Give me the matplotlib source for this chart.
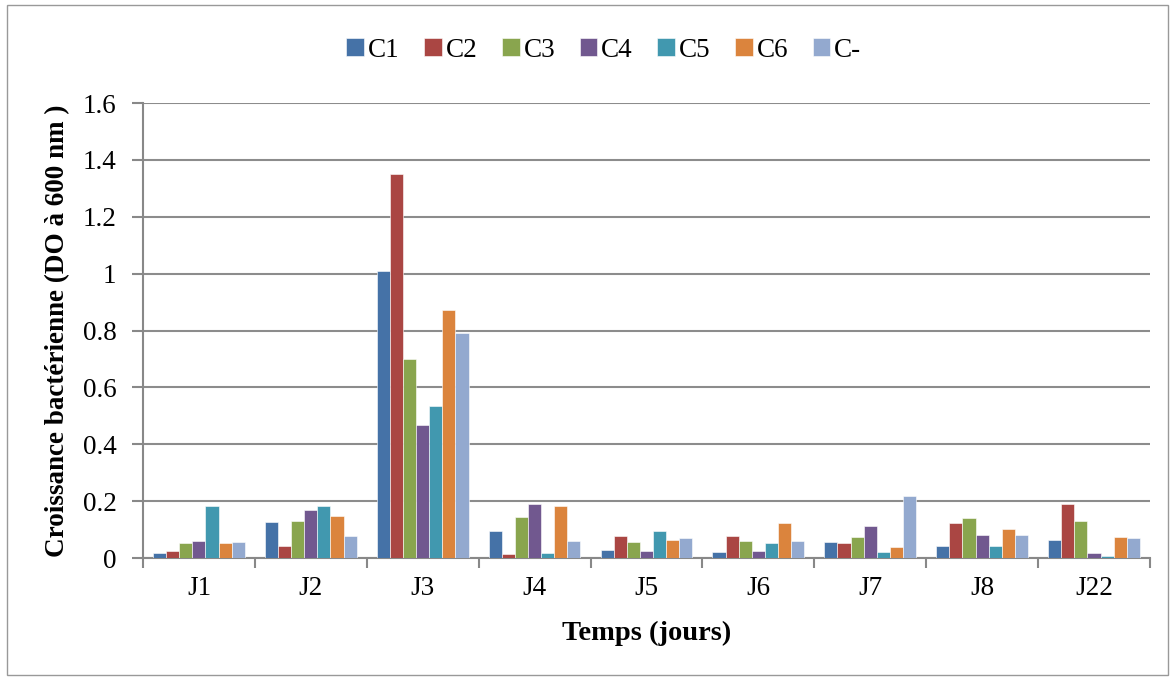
import matplotlib
matplotlib.use("Agg")
import matplotlib.pyplot as plt
import numpy as np
from matplotlib.patches import Rectangle

# valeurs (DO a 600 nm)
jours = ["J1", "J2", "J3", "J4", "J5", "J6", "J7", "J8", "J22"]
series = ["C1", "C2", "C3", "C4", "C5", "C6", "C-"]
C1 = [0.017, 0.127, 1.011, 0.094, 0.027, 0.022, 0.057, 0.041, 0.065]
C2 = [0.024, 0.041, 1.349, 0.013, 0.076, 0.076, 0.052, 0.122, 0.191]
C3 = [0.054, 0.130, 0.700, 0.143, 0.058, 0.059, 0.073, 0.139, 0.130]
C4 = [0.059, 0.169, 0.466, 0.191, 0.026, 0.024, 0.112, 0.080, 0.017]
C5 = [0.183, 0.183, 0.533, 0.019, 0.096, 0.053, 0.020, 0.043, 0.006]
C6 = [0.052, 0.147, 0.873, 0.184, 0.063, 0.123, 0.039, 0.102, 0.073]
Cm = [0.057, 0.077, 0.790, 0.059, 0.071, 0.059, 0.219, 0.080, 0.071]
valeurs = [C1, C2, C3, C4, C5, C6, Cm]
couleurs = ["#4572A7", "#AA4643", "#89A54E", "#71588F", "#4198AF", "#DB843D", "#93A9CF"]

plt.rcParams['font.family'] = ['Liberation Serif', 'DejaVu Serif']

fig = plt.figure(figsize=(11.75, 6.8), dpi=100)
ax = fig.add_axes([0.1217, 0.1794, 0.857, 0.6691])

# cadre autour de la figure
fig.patches.append(Rectangle((0.006, 0.008), 0.988, 0.984, transform=fig.transFigure,
                             fill=False, edgecolor="#999999", linewidth=1.0))

x = np.arange(len(jours))
w = 0.82 / len(series)
for i, (nom, vals) in enumerate(zip(series, valeurs)):
    ax.bar(x - 0.41 + w * (i + 0.5), vals, width=w, color=couleurs[i],
           edgecolor="white", linewidth=0.4, label=nom, zorder=3)

ax.set_xlim(-0.5, len(jours) - 0.5)
ax.set_ylim(0, 1.6)
ax.set_yticks(np.arange(0, 1.61, 0.2))
ax.set_yticklabels(["0", "0.2", "0.4", "0.6", "0.8", "1", "1.2", "1.4", "1.6"])
ax.set_xticks(x)
ax.set_xticklabels(jours)
ax.set_xticks(np.arange(-0.5, len(jours), 1), minor=True)
ax.tick_params(axis="x", which="major", length=0, labelsize=19.5, pad=13)
ax.tick_params(axis="x", which="minor", length=7, width=1.5, color="#888888")
ax.tick_params(axis="y", length=8, width=1.5, color="#888888", labelsize=19.5, pad=11)
ax.grid(axis="y", color="#8c8c8c", linewidth=1.5, zorder=0)
for s in ["top", "right"]:
    ax.spines[s].set_visible(False)
for s in ["left", "bottom"]:
    ax.spines[s].set_color("#888888")
    ax.spines[s].set_linewidth(1.5)

ax.set_xlabel("Temps (jours)", fontsize=20.5, fontweight="bold", labelpad=14)
ax.set_ylabel("Croissance bactérienne (DO à 600 nm )", fontsize=19.5, fontweight="bold", labelpad=9)

ax.legend(loc="center", bbox_to_anchor=(0.514, 0.926), bbox_transform=fig.transFigure,
          ncol=7, frameon=False, fontsize=19.5, handlelength=0.65, handleheight=0.65,
          handletextpad=0.15, columnspacing=0.9)

fig.savefig("out.png", dpi=100)
